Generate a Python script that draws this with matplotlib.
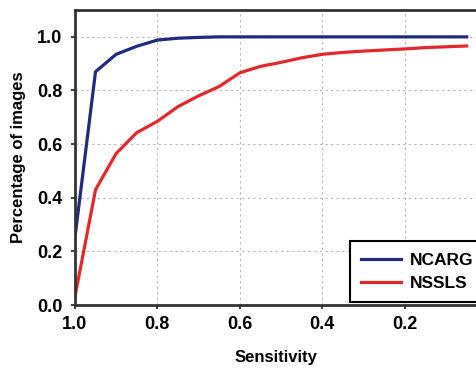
import matplotlib.pyplot as plt

sensitivity = [1.0, 0.95, 0.9, 0.85, 0.8, 0.75, 0.7, 0.65, 0.6, 0.55, 0.5,
               0.45, 0.4, 0.35, 0.3, 0.25, 0.2, 0.15, 0.1, 0.05]
ncarg = [0.25, 0.87, 0.935, 0.965, 0.988, 0.995, 0.998, 1.0, 1.0, 1.0, 1.0,
         1.0, 1.0, 1.0, 1.0, 1.0, 1.0, 1.0, 1.0, 1.0]
nssls = [0.03, 0.43, 0.565, 0.643, 0.685, 0.74, 0.78, 0.815, 0.866, 0.89, 0.905,
         0.922, 0.935, 0.942, 0.947, 0.951, 0.955, 0.96, 0.963, 0.966]

plt.rcParams['font.family'] = ['Liberation Sans', 'DejaVu Sans']
plt.rcParams['font.weight'] = 'bold'

fig = plt.figure(figsize=(4.77, 3.72), dpi=100)
ax = fig.add_axes([0.157, 0.180, 0.843, 0.793])

ax.plot(sensitivity, ncarg, color='#1f2a80', linewidth=2.3, label='NCARG')
ax.plot(sensitivity, nssls, color='#e5262b', linewidth=2.3, label='NSSLS')

ax.set_xlim(1.0, 0.025)
ax.set_ylim(0, 1.1)
ax.set_xticks([1.0, 0.8, 0.6, 0.4, 0.2])
ax.set_yticks([0.0, 0.2, 0.4, 0.6, 0.8, 1.0])
ax.set_xticklabels(['1.0', '0.8', '0.6', '0.4', '0.2'])
ax.set_yticklabels(['0.0', '0.2', '0.4', '0.6', '0.8', '1.0'])
ax.tick_params(labelsize=13, direction='out', length=3, width=1.5, color='#444444')
ax.tick_params(axis='x', pad=5)
ax.tick_params(axis='y', pad=6)

ax.grid(True, color='#b5b5b5', linestyle=(0, (2, 3)), linewidth=0.8)
for side in ['left', 'bottom', 'top']:
    ax.spines[side].set_linewidth(2)
    ax.spines[side].set_color('#333333')
ax.spines['right'].set_visible(False)

ax.set_xlabel('Sensitivity', fontsize=12, fontweight='bold', labelpad=12)
ax.set_ylabel('Percentage of images', fontsize=12, fontweight='bold', labelpad=8)

leg = ax.legend(loc='lower left', bbox_to_anchor=(0.684, 0.01), fontsize=12.5,
                frameon=True, fancybox=False, edgecolor='black', framealpha=1,
                borderaxespad=0, handlelength=2.3, handletextpad=0.5,
                borderpad=0.65, labelspacing=0.45)
leg.get_frame().set_linewidth(1.5)
for t in leg.get_texts():
    t.set_fontweight('bold')

fig.savefig('out.png', dpi=100)
